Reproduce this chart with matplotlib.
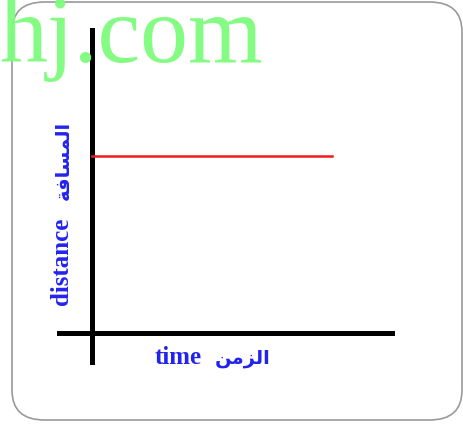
import matplotlib
matplotlib.use('Agg')
import matplotlib.pyplot as plt
from matplotlib.patches import FancyBboxPatch

# data: distance stays constant over time
time = [0, 6.86]
distance = [5.53, 5.53]

# labels (Arabic written in presentation forms, visual order, so it renders joined)
x_label = 'time'
x_label_ar = '\uFEE6\uFEE3\uFEB0\uFEDF\uFE8D'
y_label = 'distance'
y_label_ar = '\uFE94\uFED3\uFE8E\uFEB4\uFEE4\uFEDF\uFE8D'
watermark = 'hj.com'

W, H = 464, 424
fig = plt.figure(figsize=(W / 100, H / 100), dpi=100)

# rounded frame
frame = FancyBboxPatch((12 / W, 4 / H), 450 / W, 418 / H,
                       boxstyle='round,pad=0,rounding_size=0.07',
                       transform=fig.transFigure, facecolor='none',
                       edgecolor='#9a9a9a', linewidth=1.2, zorder=-1)
fig.patches.append(frame)

# axes: pixel 57..395 horizontally, 28..365 vertically
ax = fig.add_axes([57 / W, (H - 365) / H, 338 / W, 337 / H])
ax.set_xlim(-1, 8.66)
ax.set_ylim(-1, 9.53)
ax.axis('off')
ax.patch.set_alpha(0)

ax.axhline(0, color='black', linewidth=3.6, zorder=2)
ax.axvline(0, color='black', linewidth=3.6, zorder=2)
ax.plot(time, distance, color='#f01a1a', linewidth=1.8, zorder=3)

blue = '#2323ee'
fig.text(178 / W, (H - 357) / H, x_label, color=blue, fontsize=18,
         fontweight='bold', family='Liberation Serif', ha='center', va='center')
fig.text(243 / W, (H - 358) / H, x_label_ar, color=blue, fontsize=14,
         fontweight='bold', family='DejaVu Sans', ha='center', va='center')
fig.text(62 / W, (H - 261) / H, y_label, color=blue, fontsize=18,
         fontweight='bold', family='Liberation Serif', ha='center', va='center',
         rotation=90)
fig.text(63 / W, (H - 160) / H, y_label_ar, color=blue, fontsize=14,
         fontweight='bold', family='DejaVu Sans', ha='center', va='center',
         rotation=90)

# watermark
fig.text(-1 / W, (H - 62) / H, watermark, color='#7dfc7d', fontsize=69,
         family='Liberation Serif', ha='left', va='baseline', alpha=0.95,
         zorder=5)

fig.savefig('out.png', dpi=100)
